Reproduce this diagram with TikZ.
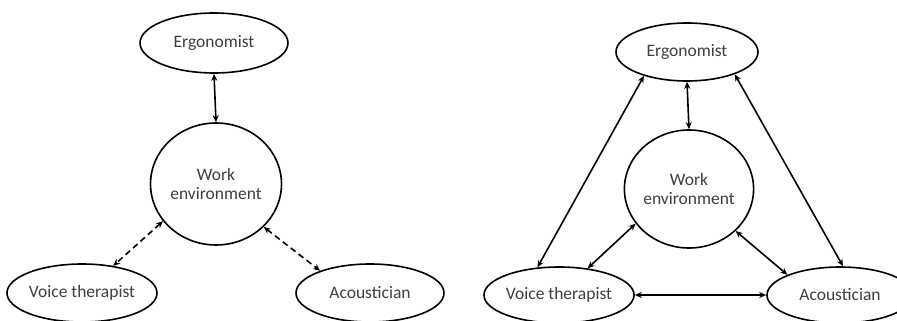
\documentclass[tikz,border=0pt]{standalone}
\usepackage{fontspec}
\setmainfont{Carlito}
\usepackage{xcolor}
\usetikzlibrary{arrows.meta}
\usetikzlibrary{shapes.geometric}
\definecolor{mygray}{RGB}{60,64,60}

\begin{document}
\begin{tikzpicture}[x=1pt,y=-1pt,
  role/.style={ellipse, draw, line width=1.6, inner sep=0pt, text=mygray, font=\fontsize{17.5}{19.5}\selectfont},
  link/.style={{Stealth[length=7pt,width=6pt]}-{Stealth[length=7pt,width=6pt]}, line width=1.6},
  dashlink/.style={link, dash pattern=on 6pt off 4pt},
]
\useasboundingbox (0,0) rectangle (897,321);

\node[role, minimum width=148, minimum height=60] (erg1) at (214,43) {Ergonomist};
\node[role, minimum width=131, minimum height=122, align=center] (work1) at (216,184) {Work\\environment};
\node[role, minimum width=146, minimum height=58] (vt1) at (82,293) {Voice therapist};
\node[role, minimum width=148, minimum height=58] (ac1) at (370,293) {Acoustician};

\draw[link] (erg1.south) -- (work1.north);
\draw[dashlink] (work1.215) -- (vt1.41);
\draw[dashlink] (work1.-42) -- (ac1.156);

\node[role, minimum width=142, minimum height=58] (erg2) at (687,52) {Ergonomist};
\node[role, minimum width=127, minimum height=118, align=center] (work2) at (689,189) {Work\\environment};
\node[role, minimum width=142, minimum height=56] (vt2) at (559,295) {Voice therapist};
\node[role, minimum width=146, minimum height=56] (ac2) at (840,295) {Acoustician};

\draw[link] (erg2.south) -- (work2.north);
\draw[link] (erg2.209) -- (vt2.128);
\draw[link] (erg2.-25) -- (ac2.84);
\draw[link] (work2.213) -- (vt2.43);
\draw[link] (work2.-42) -- (ac2.159);
\draw[link] (vt2.east) -- (ac2.west);
\end{tikzpicture}
\end{document}
